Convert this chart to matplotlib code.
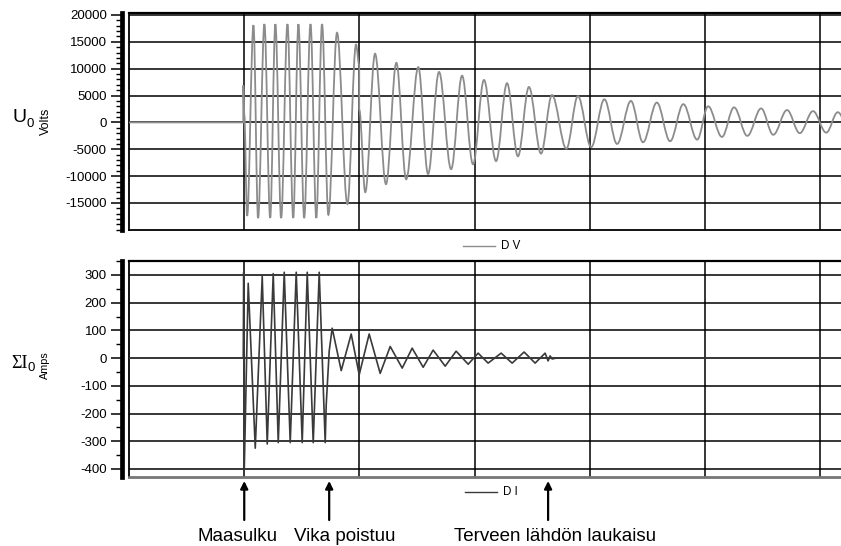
import matplotlib
matplotlib.use("Agg")
import matplotlib.pyplot as plt
from matplotlib.lines import Line2D
from matplotlib.path import Path
from matplotlib.patches import PathPatch
from matplotlib.ticker import MultipleLocator
import matplotlib.transforms as mtransforms

plt.rcParams["font.family"] = ["Liberation Sans", "DejaVu Sans"]

W, H = 841, 546

# Residual voltage U0 (V): turning points of the recorded trace, time in ms
u0_t = [-200, -1.7, -1.7, 0, 5, 16, 24, 35, 45, 54, 64, 75, 85, 94, 104, 115,
        125, 135, 146, 161, 179, 194, 199.5, 199.5, 210, 227, 246, 264, 281,
        302, 319, 338, 359, 378, 397, 416, 437, 456, 475, 494, 515, 534, 559,
        579, 602, 625, 647, 671, 692, 716, 739, 762, 786, 805, 829, 850, 873,
        897, 918, 942, 964, 987, 1010, 1030, 1052]
u0_v = [0, 0, 6900, 1500, -17400, 18100, -17800, 18300, -17800, 18300, -17800,
        18300, -17800, 18300, -17800, 18300, -17800, 18300, -17200, 16700,
        -15200, 14500, 10700, 2400, -13000, 12800, -11500, 11100, -10600, 10300,
        -9600, 9400, -8700, 8700, -7800, 7900, -7200, 7300, -6300, 6600, -5800,
        5100, -4900, 4900, -4600, 4300, -4000, 4000, -3700, 3700, -3500, 3400,
        -3200, 3000, -2700, 2800, -2500, 2600, -2300, 2300, -2000, 2100, -1900,
        1900, -1800]

# Residual current sum I0 (A)
i0_t = [-200, -1.7, -0.9, 0, 6.9, 19.1, 31.2, 39.9, 50.3, 59.0, 69.4, 79.8,
        90.2, 100.6, 109.3, 119.7, 130.1, 140.5, 142.2, 147.4, 152.6, 168.3,
        185.6, 199.5, 216.8, 235.9, 253.3, 274.1, 291.4, 310.5, 327.8, 348.7,
        367.7, 388.6, 405.9, 423.2, 445.8, 464.9, 485.7, 504.8, 522.1, 527.3,
        530.8, 534.3, 541.2, 1040]
i0_v = [0, 0, 310, -405, 270, -325, 295, -310, 305, -305, 310, -305, 310, -305,
        310, -305, 310, -305, -170, 25, 108, -45, 87, -60, 87, -55, 42, -36, 36,
        -33, 29, -29, 25, -22, 18, -18, 18, -18, 22, -18, 18, -10, 8, -3, 0, 0]

u0_ticks = [-15000, -10000, -5000, 0, 5000, 10000, 15000, 20000]
i0_ticks = [-400, -300, -200, -100, 0, 100, 200, 300]
time_grid = [0, 200, 400, 600, 800, 1000]

events_t = [0, 147.4, 527.3]
events_label = ["Maasulku", "Vika poistuu", "Terveen lähdön laukaisu"]
events_label_t = [-12, 175, 539]


def fx(x):
    return x / W


def fy(y):
    return 1 - y / H


def smooth_path(ts, vs):
    """Join turning points with half-wave cubic segments (flat at extremes)."""
    verts = [(ts[0], vs[0])]
    codes = [Path.MOVETO]
    k = 0.36
    for (t0, v0), (t1, v1) in zip(zip(ts[:-1], vs[:-1]), zip(ts[1:], vs[1:])):
        dt = t1 - t0
        if dt <= 0:
            verts.append((t1, v1))
            codes.append(Path.LINETO)
        else:
            verts += [(t0 + k * dt, v0), (t1 - k * dt, v1), (t1, v1)]
            codes += [Path.CURVE4] * 3
    return Path(verts, codes)


def style_axes(ax, yticks, ylim, minor):
    ax.set_xlim(-200, 1035.6)
    ax.set_ylim(*ylim)
    ax.set_xticks(time_grid)
    ax.set_yticks(yticks)
    ax.yaxis.set_minor_locator(MultipleLocator(minor))
    ax.set_yticklabels([str(v) for v in yticks])
    ax.tick_params(axis="x", length=0, labelbottom=False)
    ax.tick_params(axis="y", which="major", length=8, width=1.1, pad=3,
                   labelsize=9.5, direction="out")
    ax.tick_params(axis="y", which="minor", length=4.5, width=1.0,
                   direction="out")
    ax.grid(True, color="black", linewidth=1.1)
    ax.set_axisbelow(True)
    ax.spines["left"].set_position(("outward", 5))
    ax.spines["left"].set_linewidth(3.4)
    ax.spines["right"].set_visible(False)
    ax.spines["top"].set_linewidth(1.6)
    ax.axvline(-200, color="black", linewidth=1.3, clip_on=False)


fig = plt.figure(figsize=(W / 100, H / 100), dpi=100)

ax_u = fig.add_axes([fx(129), fy(230), fx(841 - 129), 217 / H])
ax_i = fig.add_axes([fx(129), fy(477), fx(841 - 129), 216 / H])

style_axes(ax_u, u0_ticks, (-20027, 20372), 1000)
style_axes(ax_i, i0_ticks, (-429, 350.5), 50)
ax_u.spines["bottom"].set_linewidth(1.3)
ax_i.spines["bottom"].set_linewidth(2.0)
ax_i.spines["bottom"].set_color("#777777")

ax_u.add_patch(PathPatch(smooth_path(u0_t, u0_v), fill=False,
                         edgecolor="#8c8c8c", linewidth=1.3, zorder=2))
ax_i.plot(i0_t, i0_v, color="#3a3a3a", linewidth=1.2, zorder=2)

# Channel names on the left
fig.text(fx(19), fy(118), "U", fontsize=14, ha="center", va="center")
fig.text(fx(30), fy(124), "0", fontsize=9.5, ha="center", va="center")
fig.text(fx(46), fy(121), "Volts", fontsize=9, rotation=90,
         ha="center", va="center")
fig.text(fx(20), fy(363), "ΣI", fontsize=13, ha="center", va="center",
         family=["Liberation Serif", "DejaVu Serif"])
fig.text(fx(31), fy(368), "0", fontsize=9.5, ha="center", va="center")
fig.text(fx(45), fy(365), "Amps", fontsize=7.8, rotation=90,
         ha="center", va="center")

# Series keys under each panel
fig.add_artist(Line2D([fx(463), fx(495)], [fy(246)] * 2, color="#8c8c8c",
                      linewidth=1.0))
fig.text(fx(501), fy(246), "D V", fontsize=8.3, va="center")
fig.add_artist(Line2D([fx(465), fx(497)], [fy(492)] * 2, color="#3a3a3a",
                      linewidth=1.0))
fig.text(fx(503), fy(492), "D I", fontsize=8.3, va="center")

# Event markers below the current panel
trans = mtransforms.blended_transform_factory(ax_i.transData, fig.transFigure)
for t, lt, label in zip(events_t, events_label_t, events_label):
    ax_i.annotate("", xy=(t, fy(481)), xytext=(t, fy(520)),
                  xycoords=trans, textcoords=trans, annotation_clip=False,
                  arrowprops=dict(arrowstyle="-|>", color="black", lw=1.6,
                                  mutation_scale=11, shrinkA=0, shrinkB=0))
    ax_i.text(lt, fy(541), label, transform=trans, fontsize=13.5,
              ha="center", va="baseline")

fig.savefig("out.png", dpi=100)
